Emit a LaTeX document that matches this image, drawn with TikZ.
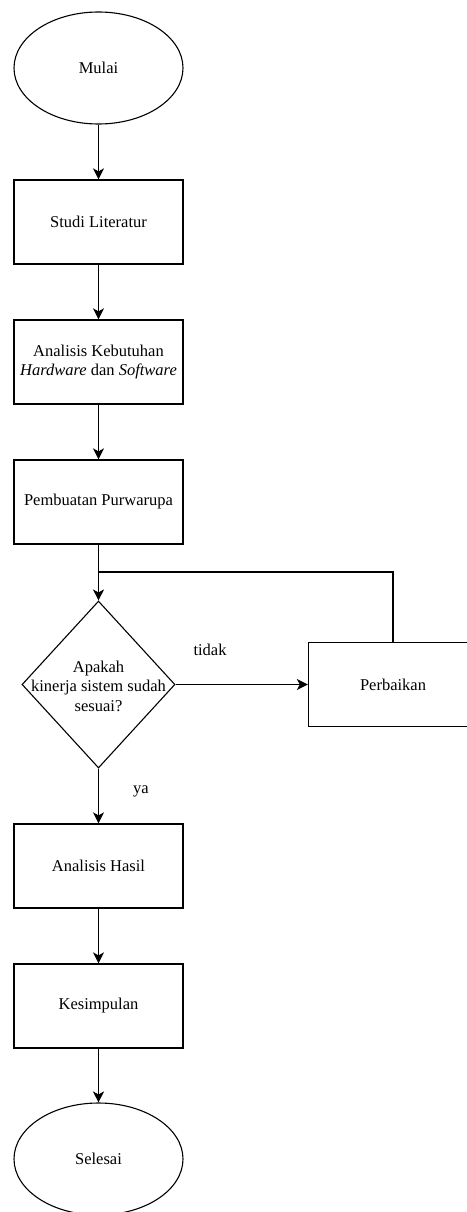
\documentclass[tikz,border=0pt]{standalone}
\usepackage{fontspec}
\setmainfont{Liberation Serif}
\usetikzlibrary{shapes.geometric,arrows.meta}
\begin{document}
\begin{tikzpicture}[x=1pt,y=-1pt,
  every node/.style={font=\fontsize{16.5}{19.5}\selectfont, text=black},
  boxnode/.style={draw, line width=1.3pt, rectangle, minimum width=169pt, minimum height=84pt, inner sep=0pt, align=center},
  termnode/.style={draw, line width=1.1pt, ellipse, minimum width=169pt, minimum height=112pt, inner sep=0pt},
  decnode/.style={draw, line width=1.1pt, diamond, minimum width=153pt, minimum height=167pt, inner sep=0pt},
  conn/.style={line width=1.3pt, -{Stealth[length=11pt,width=11pt,inset=3pt]}},
  plainconn/.style={line width=1.3pt}
]
\useasboundingbox (0,0) rectangle (466,1212);
\node[termnode] (mulai) at (98.5,68) {Mulai};
\node[boxnode] (studi) at (98.5,222) {Studi Literatur};
\node[boxnode] (analisis) at (98.5,362) {Analisis Kebutuhan\\\textit{Hardware} dan \textit{Software}};
\node[boxnode] (buat) at (98.5,502) {Pembuatan Purwarupa};
\node[decnode] (dec) at (98.5,684.5) {};
\node[align=center, inner sep=0pt] (dectext) at (98.5,686) {Apakah\\kinerja sistem sudah\\sesuai?};
\node[boxnode] (perb) at (393,684.5) {Perbaikan};
\node[boxnode] (hasil) at (98.5,866) {Analisis Hasil};
\node[boxnode] (simpul) at (98.5,1006) {Kesimpulan};
\node[termnode] (selesai) at (98.5,1159) {Selesai};
\node (tidak) at (210,650) {tidak};
\node (ya) at (141,791) {ya};
\coordinate (join) at (98.5,572);

\draw[conn] (mulai) -- (studi);
\draw[conn] (studi) -- (analisis);
\draw[conn] (analisis) -- (buat);
\draw[conn] (buat) -- (dec);
\draw[conn] (dec.east) -- (perb.west);
\draw[plainconn] (perb.north) |- (join);
\draw[conn] (dec.south) -- (hasil.north);
\draw[conn] (hasil) -- (simpul);
\draw[conn] (simpul) -- (selesai);
\end{tikzpicture}
\end{document}
